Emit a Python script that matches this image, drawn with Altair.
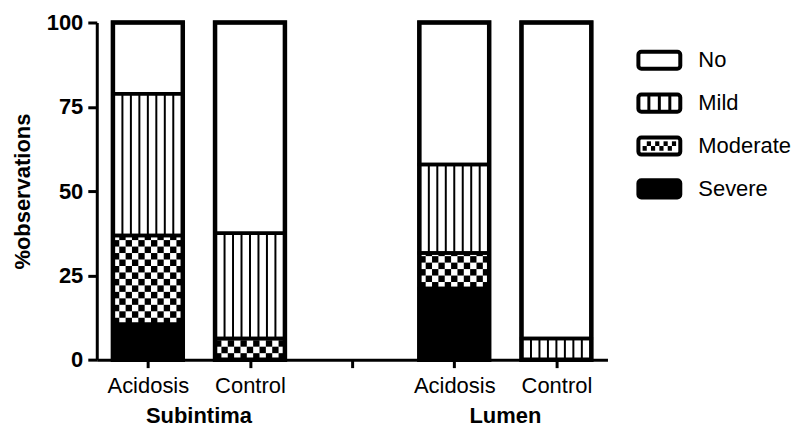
import json
import math
import altair as alt
import pandas as pd

# ---------------- data ----------------
tissues = ["Subintima", "Lumen"]
conditions = ["Acidosis", "Control"]
severity_levels = ["No", "Mild", "Moderate", "Severe"]
# % observations per bar, order: Subintima-Acidosis, Subintima-Control, Lumen-Acidosis, Lumen-Control
severe = [10.5, 0.0, 21.1, 0.0]
moderate = [26.3, 6.25, 10.5, 0.0]
mild = [42.1, 31.25, 26.3, 6.25]
no = [21.1, 62.5, 42.1, 93.75]
x_tick_labels = ["Acidosis", "Control", "", "Acidosis", "Control"]
y_ticks = [0, 25, 50, 75, 100]

# ---------------- styling ----------------
FONT = "Liberation Sans"
BAR_HALF = 0.342      # half bar width in slot units
STRIPE_STEP = 0.083   # stripe spacing in slot units
CHECK_COLS = 11
CHECK_H = 1.92        # checker cell height in % units

values = {"Severe": severe, "Moderate": moderate, "Mild": mild, "No": no}
fills = {"No": "white", "Mild": "white", "Moderate": "white", "Severe": "black"}
stack_order = ["Severe", "Moderate", "Mild", "No"]

bars = []
for t_i, tissue in enumerate(tissues):
    for c_i, cond in enumerate(conditions):
        bars.append((tissue, cond, t_i * 3 + c_i))  # slot 2 is the gap between tissues

seg_rows, stripe_rows, check_rows, bar_rows = [], [], [], []
for b, (tissue, cond, slot) in enumerate(bars):
    c = slot + 0.5
    x0, x1 = c - BAR_HALF, c + BAR_HALF
    bar_rows.append(dict(x0=x0, x1=x1, y0=0.0, y1=100.0))
    base = 0.0
    for sev in stack_order:
        v = values[sev][b]
        if v <= 0:
            continue
        y0, y1 = base, base + v
        base = y1
        seg_rows.append(dict(tissue=tissue, condition=cond, severity=sev,
                             x0=x0, x1=x1, y0=y0, y1=y1, fill=fills[sev]))
        if sev == "Mild":
            for k in range(-3, 4):
                stripe_rows.append(dict(x=c + k * STRIPE_STEP, y0=y0, y1=y1))
        if sev == "Moderate":
            cw = (x1 - x0) / CHECK_COLS
            nrows = math.ceil(v / CHECK_H)
            for j in range(nrows):
                for i in range(CHECK_COLS):
                    if (i + j) % 2 == 0:
                        check_rows.append(dict(
                            x0=x0 + i * cw, x1=x0 + (i + 1) * cw,
                            y0=y0 + j * CHECK_H, y1=min(y0 + (j + 1) * CHECK_H, y1)))

seg_df = pd.DataFrame(seg_rows)
stripe_df = pd.DataFrame(stripe_rows)
check_df = pd.DataFrame(check_rows)
bar_df = pd.DataFrame(bar_rows)
group_df = pd.DataFrame({"tissue": tissues, "center": [t_i * 3 + 1.0 for t_i in range(len(tissues))]})

xscale = alt.Scale(domain=[0, 5], nice=False, zero=False)
yscale = alt.Scale(domain=[0, 100], nice=False, zero=False)

xaxis = alt.Axis(
    values=[0.5, 1.5, 2.5, 3.5, 4.5],
    labelExpr=json.dumps(x_tick_labels) + "[floor(datum.value)]",
    title=None, grid=False, labelFontSize=22, labelFont=FONT, labelColor="black",
    labelPadding=8, tickSize=8, tickWidth=3, tickColor="black",
    domainWidth=3, domainColor="black", labelFlush=False, labelOverlap=False,
)
yaxis = alt.Axis(
    values=y_ticks, title="%observations", grid=False,
    labelFontSize=22, labelFontWeight="bold", labelFont=FONT, labelColor="black",
    labelPadding=5, tickSize=9, tickWidth=3, tickColor="black",
    domainWidth=3, domainColor="black",
    titleFontSize=22, titleFontWeight="bold", titleFont=FONT, titleColor="black",
    titlePadding=12,
)

def X(f):
    return alt.X(f, scale=xscale, axis=xaxis)

def Y(f):
    return alt.Y(f, scale=yscale, axis=yaxis)

seg_fill = alt.Chart(seg_df).mark_rect(strokeWidth=0).encode(
    x=X("x0:Q"), x2="x1:Q", y=Y("y0:Q"), y2="y1:Q",
    fill=alt.Fill("fill:N", scale=None),
)
stripes = alt.Chart(stripe_df).mark_rule(color="black", strokeWidth=2).encode(
    x=X("x:Q"), y=Y("y0:Q"), y2="y1:Q",
)
checks = alt.Chart(check_df).mark_rect(color="black", strokeWidth=0).encode(
    x=X("x0:Q"), x2="x1:Q", y=Y("y0:Q"), y2="y1:Q",
)
seg_outline = alt.Chart(seg_df).mark_rect(fillOpacity=0, stroke="black", strokeWidth=3.5).encode(
    x=X("x0:Q"), x2="x1:Q", y=Y("y0:Q"), y2="y1:Q",
)
bar_outline = alt.Chart(bar_df).mark_rect(fillOpacity=0, stroke="black", strokeWidth=4.5).encode(
    x=X("x0:Q"), x2="x1:Q", y=Y("y0:Q"), y2="y1:Q",
)
group_text = alt.Chart(group_df).mark_text(
    font=FONT, fontSize=22, fontWeight="bold", color="black", baseline="alphabetic", align="center"
).encode(x=X("center:Q"), y=alt.value(402), text="tissue:N")

main = alt.layer(seg_fill, stripes, checks, seg_outline, bar_outline, group_text).properties(
    width=512, height=338, view=alt.ViewBackground(stroke=None, strokeWidth=0)
)

# ---------------- legend panel ----------------
leg_df = pd.DataFrame({
    "level": severity_levels,
    "k": list(range(len(severity_levels))),
    "fill": [fills[s] for s in severity_levels],
})
leg_df["sx0"] = 0.0
leg_df["sx1"] = 1.0
leg_df["sy0"] = leg_df["k"] - 0.2
leg_df["sy1"] = leg_df["k"] + 0.2
leg_df["tx"] = 1.43

lx = alt.Scale(domain=[0, 150 / 42], nice=False, zero=False)
ly = alt.Scale(domain=[-0.88, 6.98], nice=False, zero=False, reverse=True)

def LX(f):
    return alt.X(f, scale=lx, axis=None)

def LY(f):
    return alt.Y(f, scale=ly, axis=None)

mild_k = severity_levels.index("Mild")
mod_k = severity_levels.index("Moderate")
leg_mild = pd.DataFrame({"x": [0.25, 0.5, 0.75], "y0": [mild_k - 0.2] * 3, "y1": [mild_k + 0.2] * 3})
mod_cells = []
for j in range(2):
    for i in range(8):
        if (i + j) % 2 == 1:
            mod_cells.append(dict(x0=0.1 + i * 0.1, x1=0.1 + (i + 1) * 0.1,
                                  y0=mod_k - 0.11 + j * 0.11, y1=mod_k + j * 0.11))
leg_mod = pd.DataFrame(mod_cells)

leg_fill = alt.Chart(leg_df).mark_rect(cornerRadius=3, strokeWidth=0).encode(
    x=LX("sx0:Q"), x2="sx1:Q", y=LY("sy0:Q"), y2="sy1:Q", fill=alt.Fill("fill:N", scale=None)
)
leg_stripes = alt.Chart(leg_mild).mark_rule(color="black", strokeWidth=3).encode(
    x=LX("x:Q"), y=LY("y0:Q"), y2="y1:Q"
)
leg_checks = alt.Chart(leg_mod).mark_rect(color="black", strokeWidth=0).encode(
    x=LX("x0:Q"), x2="x1:Q", y=LY("y0:Q"), y2="y1:Q"
)
leg_outline = alt.Chart(leg_df).mark_rect(cornerRadius=3, fillOpacity=0, stroke="black", strokeWidth=4).encode(
    x=LX("sx0:Q"), x2="sx1:Q", y=LY("sy0:Q"), y2="sy1:Q"
)
leg_text = alt.Chart(leg_df).mark_text(
    font=FONT, fontSize=22, color="black", align="left", baseline="middle"
).encode(x=LX("tx:Q"), y=LY("k:Q"), text="level:N")

legend = alt.layer(leg_fill, leg_stripes, leg_checks, leg_outline, leg_text).properties(
    width=150, height=338, view=alt.ViewBackground(stroke=None, strokeWidth=0)
)

chart = alt.hconcat(main, legend, spacing=31, bounds="flush").resolve_scale(
    x="independent", y="independent"
).properties(
    padding={"left": 3, "top": 3, "right": 2, "bottom": 0}
).configure_view(stroke=None, strokeWidth=0).configure(font=FONT)

chart.save("out.html", embed_options={"renderer": "svg", "actions": False})
